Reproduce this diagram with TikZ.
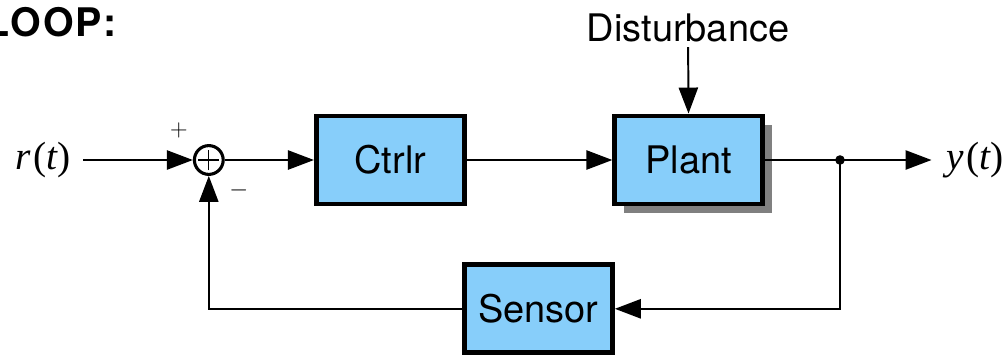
\documentclass[tikz,border=0pt]{standalone}
\usepackage{fontspec}
\setmainfont{TeX Gyre Heros}
\newfontfamily\timesfont{Liberation Serif}
\newfontfamily\headfont[LetterSpace=5]{TeX Gyre Heros}
\usetikzlibrary{arrows.meta, positioning, shadows}

\definecolor{blockblue}{RGB}{135,206,250}

% signal name like r(t), set in Times
\newcommand{\sig}[1]{{\timesfont\itshape #1}\kern2pt{\timesfont(}{\timesfont\itshape t}{\timesfont)}}

\begin{document}
\begin{tikzpicture}[
    every node/.style={font=\fontsize{27}{32}\selectfont},
    blk/.style={rectangle, draw, line width=3.5pt, fill=blockblue, minimum width=3.7cm, minimum height=2.2cm},
    arr/.style={-{Triangle[length=6.5mm, width=4.8mm]}, line width=1.4pt},
    sgn/.style={font=\fontsize{16}{20}\selectfont}
]

\useasboundingbox (0,0) rectangle (25.2,-8.85);

\node[anchor=east, font=\fontsize{28}{32}\selectfont\headfont\bfseries] (title) at (3.05,-0.55) {LOOP:};

% summing junction
\node[draw, circle, line width=2.2pt, minimum size=0.72cm, inner sep=0pt] (sum) at (5.22,-4) {};
\draw[line width=0.8pt] ([xshift=-0.26cm]sum.center) -- ([xshift=0.26cm]sum.center);
\draw[line width=0.8pt] ([yshift=-0.26cm]sum.center) -- ([yshift=0.26cm]sum.center);
\node[sgn] (plus) at (4.47,-3.25) {$+$};
\node[sgn] (minus) at (5.97,-4.75) {$-$};

% blocks
\node[blk] (ctrl) at (9.76,-4) {Ctrlr};
\node[blk, drop shadow={shadow xshift=0.22cm, shadow yshift=-0.22cm, fill=gray, opacity=1}] (plant) at (17.22,-4) {Plant};
\node[blk] (sensor) at (13.46,-7.72) {Sensor};

% signals
\node[font=\fontsize{28}{32}\selectfont] (rin) at (1.08,-4) {\sig{r}};
\node[font=\fontsize{28}{32}\selectfont] (yout) at (24.38,-4) {\sig{y}};
\node (dist) at (17.2,-0.7) {Disturbance};
\coordinate (tap) at (21,-4);

\draw[arr] ([xshift=0.18cm]rin.east) -- (sum.west);
\draw[arr] (sum) -- (ctrl);
\draw[arr] (ctrl) -- (plant);
\draw[arr] (dist) -- (plant);
\draw[arr] (plant.east) -- ([xshift=-0.25cm]yout.west);
\fill (tap) circle (0.12);
\draw[arr] (tap) |- (sensor);
\draw[arr] (sensor) -| (sum);

\end{tikzpicture}
\end{document}
